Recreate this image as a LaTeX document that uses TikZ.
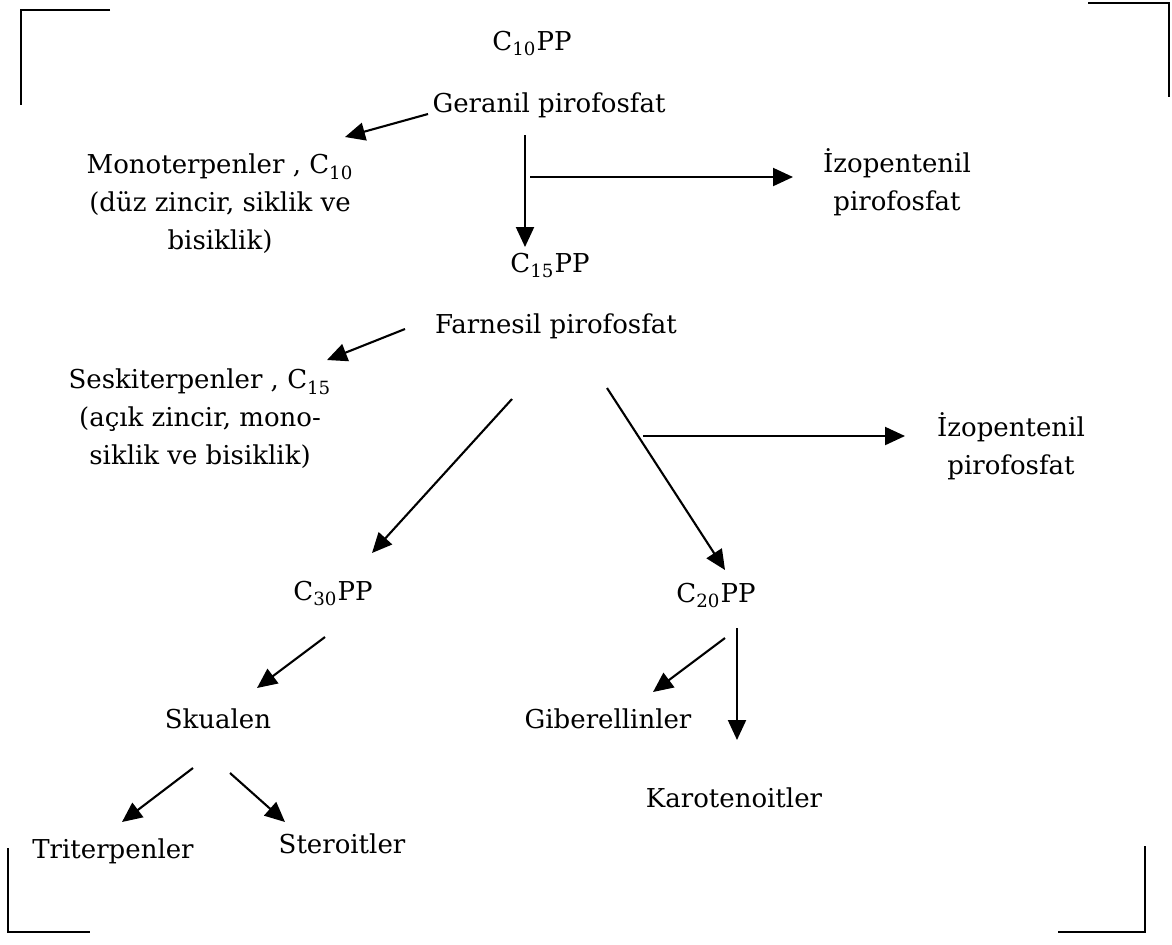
\documentclass[tikz,border=0pt]{standalone}
\usepackage{fontspec}
\setmainfont{DejaVu Serif}
\usetikzlibrary{arrows.meta}
\newcommand{\sbs}[1]{\textsubscript{#1}}
\begin{document}
\begin{tikzpicture}[x=0.5pt,y=-0.5pt,
  lbl/.style={inner sep=0pt,anchor=base,font=\fontsize{13}{19}\selectfont},
  multi/.style={inner sep=0pt,anchor=center,align=center,font=\fontsize{13}{19}\selectfont},
  arr/.style={line width=1.05pt,-{Triangle[length=10pt,width=9pt]}},
  brk/.style={line width=1.1pt}]
\useasboundingbox (0,0) rectangle (1172,944);
% brackets
\draw[brk] (110,10) -- (21,10) -- (21,105);
\draw[brk] (1088,3) -- (1169,3) -- (1169,97);
\draw[brk] (8,848) -- (8,932) -- (90,932);
\draw[brk] (1058,932) -- (1145,932) -- (1145,846);
% nodes
\node[lbl] (c10) at (532,50) {C\sbs{10}PP};
\node[lbl] (ger) at (549,112) {Geranil pirofosfat};
\node[multi] (mono) at (220,204) {Monoterpenler , C\sbs{10}\\(düz zincir, siklik ve\\bisiklik)};
\node[multi] (iz1) at (897,182) {İzopentenil\\pirofosfat};
\node[lbl] (c15) at (550,272) {C\sbs{15}PP};
\node[lbl] (far) at (556,333) {Farnesil pirofosfat};
\node[multi] (ses) at (200,419) {Seskiterpenler , C\sbs{15}\\(açık zincir, mono-\\siklik ve bisiklik)};
\node[multi] (iz2) at (1011,446) {İzopentenil\\pirofosfat};
\node[lbl] (c30) at (333,600) {C\sbs{30}PP};
\node[lbl] (c20) at (716,602) {C\sbs{20}PP};
\node[lbl] (sku) at (218,728) {Skualen};
\node[lbl] (gib) at (608,728) {Giberellinler};
\node[lbl] (kar) at (734,807) {Karotenoitler};
\node[lbl] (tri) at (113,858) {Triterpenler};
\node[lbl] (ste) at (342,853) {Steroitler};
% connectors
\draw[arr] ([shift={(-121,2)}]ger.base) -- ([shift={(125,-67)}]mono.center);
\draw[arr] ([shift={(-24,23)}]ger.base) -- ([shift={(-25,-25)}]c15.base);
\draw[arr] ([shift={(-19,65)}]ger.base) -- ([shift={(-104,-5)}]iz1.center);
\draw[arr] ([shift={(-151,-4)}]far.base) -- ([shift={(127,-59)}]ses.center);
\draw[arr] ([shift={(-44,66)}]far.base) -- ([shift={(39,-47)}]c30.base);
\draw[arr] ([shift={(51,55)}]far.base) -- ([shift={(9,-32)}]c20.base);
\draw[arr] ([shift={(87,103)}]far.base) -- ([shift={(-106,-10)}]iz2.center);
\draw[arr] ([shift={(-8,37)}]c30.base) -- ([shift={(39,-40)}]sku.base);
\draw[arr] ([shift={(9,36)}]c20.base) -- ([shift={(45,-36)}]gib.base);
\draw[arr] ([shift={(21,26)}]c20.base) -- ([shift={(3,-67)}]kar.base);
\draw[arr] ([shift={(-25,40)}]sku.base) -- ([shift={(9,-36)}]tri.base);
\draw[arr] ([shift={(12,45)}]sku.base) -- ([shift={(-57,-31)}]ste.base);
\end{tikzpicture}
\end{document}
